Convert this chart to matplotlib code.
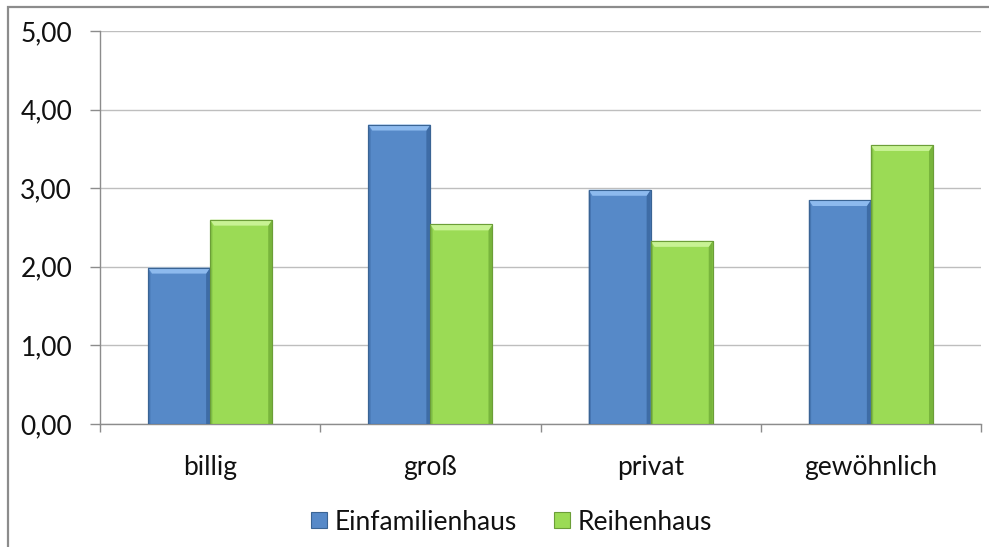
import matplotlib
matplotlib.use("Agg")
import matplotlib.pyplot as plt
from matplotlib.patches import Polygon, Rectangle
from matplotlib.lines import Line2D
import numpy as np

categories = ["billig", "groß", "privat", "gewöhnlich"]
series_names = ["Einfamilienhaus", "Reihenhaus"]
einfamilienhaus = [1.99, 3.81, 2.98, 2.85]
reihenhaus = [2.60, 2.54, 2.33, 3.55]
y_ticks = [0, 1, 2, 3, 4, 5]
y_tick_labels = ["0,00", "1,00", "2,00", "3,00", "4,00", "5,00"]

colors = {
    "Einfamilienhaus": dict(face="#5689C8", top="#8DBAEE", side="#3E6CA6", edge="#3A6494"),
    "Reihenhaus": dict(face="#9BDB55", top="#C8F294", side="#78B53C", edge="#6C9E38"),
}

plt.rcParams["font.family"] = ["Lato", "DejaVu Sans"]

W, H = 989, 547
fig = plt.figure(figsize=(W / 100, H / 100), dpi=100)
fig.patch.set_facecolor("white")

# chart-area frame (runs off the right and bottom edges)
fig.patches.append(Rectangle((8 / W, -0.2), 1.5, 1.2 - 7 / H,
                             transform=fig.transFigure, fill=False,
                             edgecolor="#8C8C8C", linewidth=1.6))

left, right = 100 / W, 981 / W
bottom, top = (H - 424) / H, (H - 31) / H
ax = fig.add_axes([left, bottom, right - left, top - bottom])

x = np.arange(len(categories))
bw = 0.282
xlim = (-0.5, len(categories) - 0.5)
ylim = (0, 5)
ax.set_xlim(*xlim)
ax.set_ylim(*ylim)

# data units per pixel, for the bevel decoration
px_x = (xlim[1] - xlim[0]) / (981 - 100)
px_y = (ylim[1] - ylim[0]) / (424 - 31)

for name, vals, offset in [("Einfamilienhaus", einfamilienhaus, -bw / 2),
                           ("Reihenhaus", reihenhaus, bw / 2)]:
    c = colors[name]
    bars = ax.bar(x + offset, vals, width=bw, color=c["face"], edgecolor=c["edge"],
                  linewidth=0.8, zorder=3)
    for b in bars:
        x0, x1 = b.get_x(), b.get_x() + b.get_width()
        h = b.get_height()
        bx, by = 4 * px_x, 6 * px_y
        # right side shading
        ax.add_patch(Polygon([(x1, h), (x1 - bx, h - by), (x1 - bx, 0), (x1, 0)],
                             closed=True, facecolor=c["side"], edgecolor="none", zorder=4))
        # left side shading
        ax.add_patch(Polygon([(x0, h), (x0 + bx * 0.6, h - by), (x0 + bx * 0.6, 0), (x0, 0)],
                             closed=True, facecolor=c["side"], edgecolor="none", alpha=0.6, zorder=4))
        # top bevel
        ax.add_patch(Polygon([(x0, h), (x1, h), (x1 - bx, h - by), (x0 + bx, h - by)],
                             closed=True, facecolor=c["top"], edgecolor="none", zorder=5))
        # outline on top of shading
        ax.add_patch(Rectangle((x0, 0), x1 - x0, h, fill=False, edgecolor=c["edge"],
                               linewidth=0.8, zorder=6))

# gridlines
ax.set_yticks(y_ticks)
ax.set_yticklabels(y_tick_labels)
ax.yaxis.grid(True, color="#BEBEBE", linewidth=1.0, zorder=0)
ax.set_axisbelow(True)

# category boundaries as major ticks, names as minor ticks
ax.set_xticks(np.arange(len(categories) + 1) - 0.5)
ax.set_xticklabels([])
ax.set_xticks(x, minor=True)
ax.set_xticklabels(categories, minor=True)
ax.tick_params(axis="x", which="major", length=6, width=1, color="#8C8C8C", direction="out")
ax.tick_params(axis="x", which="minor", length=0, pad=22, labelsize=19, labelcolor="#111111")
ax.tick_params(axis="y", length=7, width=1, color="#8C8C8C", pad=13, labelsize=19,
               labelcolor="#111111")

for s in ["top", "right"]:
    ax.spines[s].set_visible(False)
for s in ["left", "bottom"]:
    ax.spines[s].set_color("#8C8C8C")
    ax.spines[s].set_linewidth(1.0)

handles = [Line2D([], [], linestyle="none", marker="s", markersize=11,
                  markerfacecolor=colors[n]["face"], markeredgecolor=colors[n]["edge"],
                  markeredgewidth=0.8) for n in series_names]
fig.legend(handles, series_names, loc="center", bbox_to_anchor=(509 / W, 1 - 522 / H),
           ncol=2, frameon=False, fontsize=19, handletextpad=0.1, columnspacing=1.2,
           handlelength=1.0, labelcolor="#111111")

fig.savefig("out.png", dpi=100, facecolor="white")
